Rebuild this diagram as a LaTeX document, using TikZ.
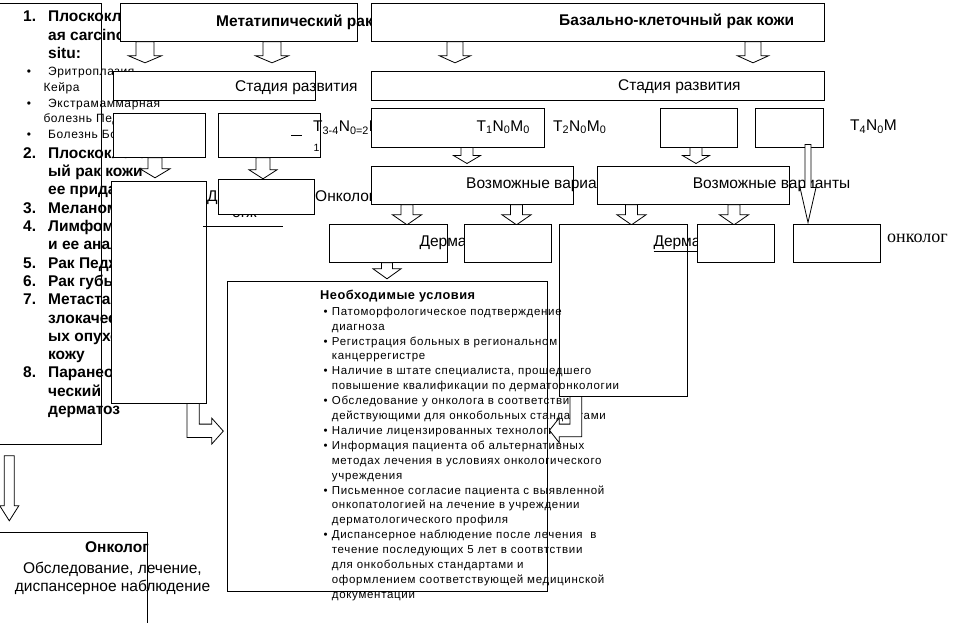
\documentclass[tikz,border=0pt]{standalone}
\usepackage{fontspec}
\setmainfont{Liberation Sans}
\newfontfamily\spacedfont[LetterSpace=5]{Liberation Sans}
\newfontfamily\condfont[LetterSpace=6]{Liberation Sans}
\newfontfamily\headfont[LetterSpace=4]{Liberation Sans}
\newfontfamily\timesfont{Liberation Serif}

\begin{document}
\begin{tikzpicture}[x=1pt, y=-1pt,
    box/.style={draw, fill=white, inner sep=0pt, anchor=north west, line width=0.8pt},
    lbl/.style={anchor=base west, inner sep=0pt, font=\fontsize{15.5}{18.3}\selectfont},
    ttl/.style={anchor=base west, inner sep=0pt, font=\fontsize{15.5}{18.3}\selectfont\bfseries},
    blk/.style={draw, fill=white, line width=0.8pt},
    pics/blkdown/.style n args={4}{code={
        \draw[blk] (-#2,0) -- (#2,0) -- (#2,#1-#4) -- (#3,#1-#4) -- (0,#1)
            -- (-#3,#1-#4) -- (-#2,#1-#4) -- cycle;}}
]
    \useasboundingbox (0,0) rectangle (966,622);

    % Left list
    \node[box, minimum width=103pt, minimum height=441pt] (lp) at (-2,3) {};
    \node[ttl] (lst1) at (23,21.7) {\begin{tabular}[t]{@{}p{25pt}@{}l@{}}1. & Плоскоклеточн\\ & ая carcinoma in\\ & situ:\end{tabular}};
    \node[anchor=base west, inner sep=0pt, font=\spacedfont\fontsize{12}{15.7}\selectfont] (lstb) at (26.7,75.7) {\begin{tabular}[t]{@{}p{16.6pt}@{}l@{}}•&\hspace{4.7pt}Эритроплазия\\ & Кейра\\ •&\hspace{4.7pt}Экстрамаммарная\\ & болезнь Педжета\\ •&\hspace{4.7pt}Болезнь Боуэна\end{tabular}};
    \node[ttl] (lst2) at (23,158.3) {\begin{tabular}[t]{@{}p{25pt}@{}l@{}}2. & Плоскоклеточн\\ & ый рак кожи\\ & ее придатков\\ 3. & Меланома\\ 4. & Лимфома кожи\\ & и ее аналоги\\ 5. & Рак Педжета\\ 6. & Рак губы\\ 7. & Метастазы\\ & злокачественн\\ & ых опухолей в\\ & кожу\\ 8. & Паранеопласти\\ & ческий\\ & дерматоз\end{tabular}};

    % Top titles
    \node[box, minimum width=237pt, minimum height=38pt] (mt) at (120,3) {};
    \node[ttl] (mttxt) at (216,26) {Метатипический рак кожи};
    \node[box, minimum width=453pt, minimum height=38pt] (bk) at (370.5,3) {};
    \node[ttl] (bktxt) at (559,25.5) {Базально-клеточный рак кожи};

    \pic at ([xshift=25pt]mt.south west) {blkdown={21}{9}{16.5}{7}};
    \pic at ([xshift=152pt]mt.south west) {blkdown={21}{9}{16.5}{7}};
    \pic at ([xshift=84.5pt]bk.south west) {blkdown={21}{8}{15.5}{7}};
    \pic at ([xshift=382.5pt]bk.south west) {blkdown={21}{8}{15.5}{7}};

    % Stages
    \node[box, minimum width=202pt, minimum height=29.5pt] (st1) at (113,70.5) {};
    \node[lbl] (st1txt) at (235,91) {Стадия развития};
    \node[box, minimum width=453pt, minimum height=29pt] (st2) at (370.5,70.5) {};
    \node[lbl] (st2txt) at (618,90.5) {Стадия развития};

    \node[box, minimum width=92pt, minimum height=44pt] (s1a) at (113,113) {};
    \node[box, minimum width=102pt, minimum height=44pt] (s1b) at (218,113) {};
    \draw[line width=0.8pt] (291,135) -- (302,135);
    \node[lbl] (t34) at (313,131.5) {T\textsubscript{3-4}N\textsubscript{0=2}M};
    \node[lbl, font=\fontsize{10.5}{12}\selectfont] (t34i) at (313.3,151.7) {1};
    \node[box, minimum width=173.3pt, minimum height=38.4pt] (s2a) at (370.5,108.3) {};
    \node[lbl] (t1) at (476.5,131) {T\textsubscript{1}N\textsubscript{0}M\textsubscript{0}};
    \node[lbl] (t2) at (553,131) {T\textsubscript{2}N\textsubscript{0}M\textsubscript{0}};
    \node[box, minimum width=77pt, minimum height=38.4pt] (s2b) at (660,108.3) {};
    \node[box, minimum width=68pt, minimum height=38.4pt] (s2c) at (755,108.3) {};
    \node[lbl] (t4) at (850,130.5) {T\textsubscript{4}N\textsubscript{0}M};

    \pic at ([xshift=42pt]s1a.south west) {blkdown={20}{7}{15}{9}};
    \pic at ([xshift=45pt]s1b.south west) {blkdown={21}{7}{14}{9}};
    \pic at ([xshift=96.5pt]s2a.south west) {blkdown={16}{6}{13.5}{8}};
    \pic at ([xshift=36pt]s2b.south west) {blkdown={16}{6}{13.5}{8}};

    % Variants
    \node[box, minimum width=95.5pt, minimum height=221.7pt] (tall) at (110.5,181) {};
    \node[lbl] (dktxt) at (207,201) {Дерматолог};
    \node[lbl] (frag) at (232,217.5) {огж};
    \node[box, minimum width=96pt, minimum height=35pt] (dk) at (218,179) {};
    \node[lbl] (onktxt) at (315,201) {Онколог};
    \draw[line width=0.8pt] (203,226.7) -- (283,226.7);

    \node[box, minimum width=202.5pt, minimum height=38pt] (v1) at (370.5,166) {};
    \node[lbl] (v1txt) at (466,188) {Возможные варианты};
    \node[box, minimum width=192pt, minimum height=38pt] (v2) at (596.5,166) {};
    \node[lbl] (v2txt) at (692.7,188) {Возможные варианты};

    \pic at ([xshift=53pt,yshift=3pt]s2c.south west) {blkdown={78}{3}{8}{35}};

    \pic at ([xshift=36.5pt]v1.south west) {blkdown={20}{6}{14.5}{10}};
    \pic at ([xshift=146pt]v1.south west) {blkdown={20}{6}{14.5}{10}};
    \pic at ([xshift=35pt]v2.south west) {blkdown={20}{6}{14.5}{10}};
    \pic at ([xshift=137.5pt]v2.south west) {blkdown={20}{6}{14.5}{10}};

    % Specialists
    \node[box, minimum width=117.7pt, minimum height=38pt] (r1) at (329,224) {};
    \node[lbl] (r1txt) at (419.4,246.5) {Дерматолог};
    \node[box, minimum width=86.5pt, minimum height=38pt] (r2) at (464,224) {};
    \node[box, minimum width=128pt, minimum height=171.4pt] (r3) at (559.3,224.3) {};
    \node[lbl] (r3txt) at (653.3,246.5) {\underline{Дерматолог}};
    \node[box, minimum width=77pt, minimum height=38pt] (r4) at (697,224) {};
    \node[box, minimum width=87pt, minimum height=38pt] (r5) at (793,224) {};
    \node[lbl, font=\timesfont\fontsize{18}{20}\selectfont] (r5txt) at (887,242) {онколог};

    \pic at ([xshift=58pt]r1.south west) {blkdown={16}{5.5}{14}{10}};

    % Conditions
    \node[box, minimum width=320.6pt, minimum height=309.7pt] (cond) at (226.7,281) {};
    \node[anchor=base west, inner sep=0pt, font=\headfont\fontsize{12.8}{15}\selectfont\bfseries] (condh) at (320,299.5) {Необходимые условия};
    \node[anchor=base west, inner sep=0pt, font=\condfont\fontsize{11.5}{14.9}\selectfont] (condl) at (323.3,315.2) {\begin{tabular}[t]{@{}p{8.4pt}@{}l@{}}
        •&Патоморфологическое подтверждение\\
        &диагноза\\
        •&Регистрация больных в региональном\\
        &канцеррегистре\\
        •&Наличие в штате специалиста, прошедшего\\
        &повышение квалификации по дерматоонкологии\\
        •&Обследование у онколога в соответствии\\
        &действующими для онкобольных стандартами\\
        •&Наличие лицензированных технологий\\
        •&Информация пациента об альтернативных\\
        &методах лечения в условиях онкологического\\
        &учреждения\\
        •&Письменное согласие пациента с выявленной\\
        &онкопатологией на лечение в учреждении\\
        &дерматологического профиля\\
        •&Диспансерное наблюдение после лечения\ \ в\\
        &течение последующих 5 лет в соотвтствии\\
        &для онкобольных стандартами и\\
        &оформлением соответствующей медицинской\\
        &документации
    \end{tabular}};

    \draw[blk] ([xshift=22.4pt]r3.south west) -- ++(0,40.3) -- ++(-22.4,0) -- ++(0,6)
        -- ++(-9.8,-12.5) -- ++(9.8,-12.5) -- ++(0,6.3) -- ++(10.7,0) -- ++(0,-27.6) -- cycle;
    \draw[blk] ([xshift=76.5pt]tall.south west) -- ++(0,34) -- ++(24.7,0) -- ++(0,6.6)
        -- ++(11.6,-13) -- ++(-11.6,-13) -- ++(0,6) -- ++(-12.4,0) -- ++(0,-20.6) -- cycle;

    % Oncologist
    \pic at ([xshift=11.3pt,yshift=-11pt]lp.south west) {blkdown={65}{5}{9.5}{15}};
    \node[box, minimum width=148.7pt, minimum height=100pt] (onc) at (-2,532.3) {};
    \node[anchor=base, inner sep=0pt, font=\fontsize{15.5}{18.4}\selectfont] (onctxt) at (112.5,552.8) {\begin{tabular}[t]{@{}c@{}}\hspace*{9pt}\textbf{Онколог}\\[2pt] Обследование, лечение,\\ диспансерное наблюдение\end{tabular}};
\end{tikzpicture}
\end{document}
